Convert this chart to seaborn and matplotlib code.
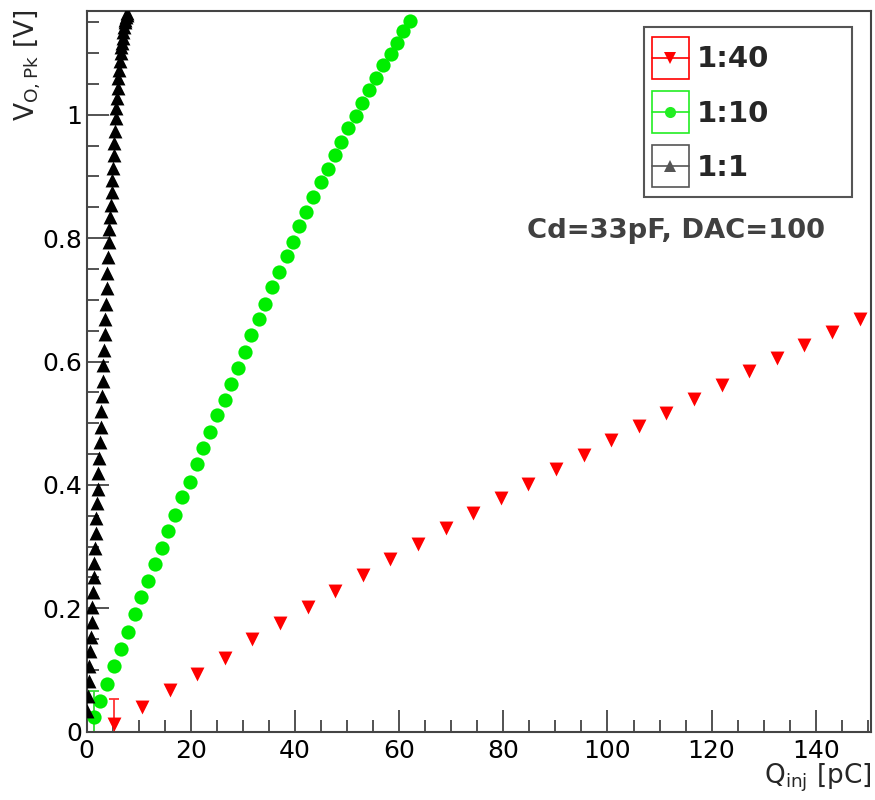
import numpy as np
import pandas as pd
import seaborn as sns
import matplotlib
matplotlib.use("Agg")
import matplotlib.pyplot as plt
from matplotlib.legend_handler import HandlerBase
from matplotlib.patches import Rectangle
from matplotlib.lines import Line2D
from matplotlib.ticker import MultipleLocator, FuncFormatter

# ---------------- data ----------------
series_labels = ["1:40", "1:10", "1:1"]

q_40 = [5.3, 10.6, 15.9, 21.2, 26.5, 31.8, 37.1, 42.4, 47.7, 53.0, 58.3, 63.6, 68.9, 74.2,
        79.5, 84.8, 90.1, 95.4, 100.7, 106.0, 111.3, 116.6, 121.9, 127.2, 132.5, 137.8, 143.1, 148.4]
v_40 = [0.013, 0.040, 0.068, 0.094, 0.120, 0.150, 0.176, 0.202, 0.228, 0.254, 0.280, 0.305, 0.330, 0.355,
        0.379, 0.402, 0.425, 0.449, 0.472, 0.495, 0.517, 0.540, 0.562, 0.585, 0.606, 0.627, 0.648, 0.669]

q_10 = [1.4, 2.5, 3.8, 5.2, 6.65, 7.9, 9.2, 10.4, 11.7, 13.1, 14.4, 15.7, 17.0, 18.3, 19.9, 21.1,
        22.4, 23.7, 25.0, 26.5, 27.7, 29.0, 30.3, 31.6, 33.1, 34.3, 35.6, 36.9, 38.4, 39.6, 40.8,
        42.2, 43.5, 45.0, 46.3, 47.6, 48.9, 50.1, 51.7, 52.9, 54.2, 55.5, 56.8, 58.4, 59.6, 60.8, 62.1]
v_10 = [0.024, 0.050, 0.078, 0.106, 0.134, 0.162, 0.191, 0.219, 0.245, 0.272, 0.297, 0.326, 0.351,
        0.380, 0.405, 0.434, 0.460, 0.485, 0.513, 0.538, 0.564, 0.589, 0.615, 0.643, 0.669, 0.694,
        0.720, 0.745, 0.771, 0.794, 0.820, 0.843, 0.866, 0.891, 0.912, 0.935, 0.955, 0.978, 0.998,
        1.019, 1.040, 1.060, 1.081, 1.098, 1.116, 1.135, 1.152]

q_1 = [0.13, 0.27, 0.40, 0.53, 0.66, 0.80, 0.93, 1.06, 1.19, 1.33, 1.46, 1.59, 1.72, 1.86, 1.99,
       2.12, 2.25, 2.39, 2.52, 2.65, 2.78, 2.92, 3.05, 3.18, 3.31, 3.45, 3.58, 3.71, 3.84, 3.98,
       4.11, 4.24, 4.37, 4.51, 4.64, 4.77, 4.90, 5.04, 5.17, 5.30, 5.43, 5.57, 5.70, 5.83, 5.96,
       6.10, 6.23, 6.36, 6.49, 6.63, 6.76, 6.89, 7.02, 7.16, 7.29, 7.42, 7.55, 7.69, 7.82]
v_1 = [0.034, 0.058, 0.082, 0.106, 0.130, 0.154, 0.178, 0.202, 0.226, 0.250, 0.274, 0.298, 0.322,
       0.346, 0.370, 0.394, 0.419, 0.444, 0.469, 0.494, 0.519, 0.544, 0.569, 0.594, 0.619, 0.644,
       0.669, 0.694, 0.719, 0.744, 0.769, 0.794, 0.814, 0.834, 0.854, 0.874, 0.894, 0.914, 0.934,
       0.954, 0.974, 0.994, 1.011, 1.027, 1.044, 1.060, 1.073, 1.087, 1.100, 1.109, 1.117, 1.125,
       1.134, 1.142, 1.150, 1.154, 1.158, 1.162, 1.165]

# error bars on the first points
err_40_first = 0.04
err_10_first = 0.042

annotation = "Cd=33pF, DAC=100"

# ---------------- style ----------------
sns.set_style("ticks")
plt.rcParams["font.family"] = ["DejaVu Sans"]
plt.rcParams["mathtext.fontset"] = "dejavusans"

RED = "#ff0000"
GREEN = "#00ee00"
BLACK = "#000000"
FRAME = "#444444"

fig = plt.figure(figsize=(8.75, 8.0), dpi=100)
ax = fig.add_axes([0.0991, 0.0854, 0.8963, 0.9012])

df40 = pd.DataFrame({"Q": q_40, "V": v_40})
df10 = pd.DataFrame({"Q": q_10, "V": v_10})
df1 = pd.DataFrame({"Q": q_1, "V": v_1})

ax.errorbar(q_40[0], v_40[0], yerr=err_40_first, fmt="none", ecolor="#ff3333",
            elinewidth=1.3, capsize=3.5, capthick=1.3, zorder=2)
ax.errorbar(q_10[0], v_10[0], yerr=err_10_first, fmt="none", ecolor="#33dd33",
            elinewidth=1.3, capsize=3.5, capthick=1.3, zorder=2)

sns.scatterplot(data=df40, x="Q", y="V", ax=ax, marker="v", color=RED, s=100,
                linewidth=0, zorder=3, legend=False)
sns.scatterplot(data=df10, x="Q", y="V", ax=ax, marker="o", color=GREEN, s=105,
                linewidth=0, zorder=3, legend=False)
sns.scatterplot(data=df1, x="Q", y="V", ax=ax, marker="^", color=BLACK, s=100,
                linewidth=0, zorder=4, legend=False)

ax.set_xlim(0, 150.6)
ax.set_ylim(0, 1.1686)

ax.xaxis.set_major_locator(MultipleLocator(20))
ax.xaxis.set_minor_locator(MultipleLocator(5))
ax.yaxis.set_major_locator(MultipleLocator(0.2))
ax.yaxis.set_minor_locator(MultipleLocator(0.05))
ax.yaxis.set_major_formatter(FuncFormatter(lambda v, p: "%g" % round(v, 3)))
ax.xaxis.set_major_formatter(FuncFormatter(lambda v, p: "%g" % round(v, 3)))

ax.tick_params(axis="both", which="major", direction="in", length=16, width=1.3,
               color=FRAME, labelsize=18, labelcolor="black")
ax.tick_params(axis="both", which="minor", direction="in", length=8.5, width=1.3, color=FRAME)
ax.tick_params(axis="y", which="major", pad=3.5)
ax.tick_params(axis="x", which="major", pad=5)
ax.tick_params(top=False, right=False, which="both")

for sp in ax.spines.values():
    sp.set_color(FRAME)
    sp.set_linewidth(1.5)

ax.set_xlabel("")
ax.set_ylabel("")

fig.text(872 / 875, 1 - 783 / 800, r"Q$_{\mathrm{inj}}$ [pC]", ha="right", va="baseline",
         fontsize=19)
fig.text(28 / 875, 1 - 9 / 800, r"V$_{\mathrm{O,Pk}}$ [V]", ha="center", va="top",
         rotation=90, fontsize=19)

ax.text(0.5614, 0.6847, annotation, transform=ax.transAxes, fontsize=19.7, fontweight="bold",
        color="#404040", ha="left", va="baseline")


# ---------------- legend ----------------
PX = 72.0 / 100.0  # points per pixel


class BoxHandler(HandlerBase):
    def __init__(self, color, marker, msize):
        super().__init__()
        self.color = color
        self.marker = marker
        self.msize = msize

    def create_artists(self, legend, orig_handle, xdescent, ydescent, width, height,
                       fontsize, trans):
        bw, bh = 37 * PX, 42 * PX
        cx = -xdescent + width / 2
        cy = -ydescent + height / 2
        rect = Rectangle((cx - bw / 2, cy - bh / 2), bw, bh, fill=False, edgecolor=self.color,
                         linewidth=1.2, transform=trans)
        line = Line2D([cx - bw / 2, cx + bw / 2], [cy, cy],
                      color=self.color, linewidth=1.2, transform=trans)
        mk = Line2D([cx], [cy], marker=self.marker,
                    markersize=self.msize, color=self.color, linestyle="none",
                    markeredgewidth=0, transform=trans)
        return [rect, line, mk]


h40 = Line2D([], [], color=RED)
h10 = Line2D([], [], color=GREEN)
h1 = Line2D([], [], color=BLACK)
LFS = 21
leg = ax.legend([h40, h10, h1], series_labels,
                handler_map={h40: BoxHandler(RED, "v", 8),
                             h10: BoxHandler("#22ee22", "o", 8),
                             h1: BoxHandler("#555555", "^", 8)},
                loc="upper left", bbox_to_anchor=(0.7029, 0.9774), frameon=False,
                prop={"weight": "bold", "size": LFS}, handlelength=1.27, handleheight=1.38,
                handletextpad=0.27, labelspacing=0.72, borderpad=0.48, borderaxespad=0)
ax.add_patch(Rectangle((0.7106, 0.7416), 0.9758 - 0.7106, 0.9774 - 0.7416,
                       transform=ax.transAxes, fill=False, edgecolor="#555555",
                       linewidth=1.5, zorder=5))

fig.savefig("out.png", dpi=100, facecolor="white")
